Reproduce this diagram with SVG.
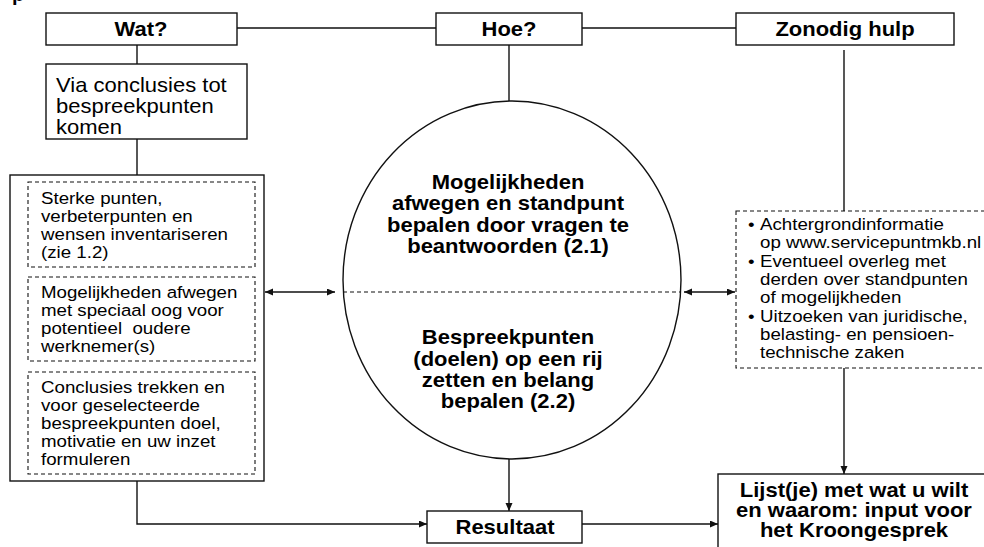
<svg xmlns="http://www.w3.org/2000/svg" width="984" height="547" viewBox="0 0 984 547">
<style>
text{font-family:"Liberation Sans",Arial,sans-serif;fill:#000}
.b{font-weight:bold;font-size:20px}
.r{font-size:20px}
.s{font-size:17px}
.box{fill:#fff;stroke:#111;stroke-width:1.4}
.dash{fill:#fff;stroke:#111;stroke-width:1.1;stroke-dasharray:4 3}
.ln{fill:none;stroke:#111;stroke-width:1.4}
.dl{fill:none;stroke:#111;stroke-width:1.1;stroke-dasharray:4 3}
</style>
<defs>
<marker id="ah" markerUnits="userSpaceOnUse" markerWidth="9" markerHeight="8" refX="8" refY="3.5" orient="auto-start-reverse"><path d="M0,0 L8,3.5 L0,7 z" fill="#111"/></marker>
</defs>
<rect width="984" height="547" fill="#fff"/>
<text class="b" x="12" y="1">p</text>

<g id="connectors">
<path class="ln" d="M237,28 H436 M582,28 H736"/>
<path class="ln" d="M137,45 V64 M137,139 V175"/>
<path class="ln" d="M509,45 V101"/>
<path class="ln" d="M844,50 V211"/>
<path class="ln" d="M509,459 V511" marker-end="url(#ah)"/>
<path class="ln" d="M137,481 V524 H427" marker-end="url(#ah)"/>
<path class="ln" d="M582,524 H718" marker-end="url(#ah)"/>
<path class="ln" d="M844,368 V474" marker-end="url(#ah)"/>
<path class="ln" d="M265,292 H335" marker-start="url(#ah)" marker-end="url(#ah)"/>
<path class="ln" d="M684,292 H735" marker-start="url(#ah)" marker-end="url(#ah)"/>
</g>

<g id="wat">
<rect class="box" x="46" y="13" width="191" height="32"/>
<text class="b" text-anchor="middle" transform="translate(141,0) scale(1.1,1)" y="36">Wat?</text>
</g>
<g id="hoe">
<rect class="box" x="436" y="13" width="146" height="32"/>
<text class="b" text-anchor="middle" transform="translate(509,0) scale(1.1,1)" y="36">Hoe?</text>
</g>
<g id="zonodig">
<rect class="box" x="736" y="13" width="218" height="32"/>
<text class="b" text-anchor="middle" transform="translate(845,0) scale(1.1,1)" y="36">Zonodig hulp</text>
</g>
<g id="via">
<rect class="box" x="46" y="64" width="201" height="75"/>
<text class="r" transform="translate(56,0) scale(1.1,1)"><tspan x="0" y="92">Via conclusies tot</tspan><tspan x="0" y="113">bespreekpunten</tspan><tspan x="0" y="134">komen</tspan></text>
</g>
<g id="stappen">
<rect class="box" x="10" y="175" width="254" height="306"/>
<g id="sterke">
<rect class="dash" x="28" y="182" width="227" height="85"/>
<text class="s" transform="translate(41,0) scale(1.1,1)"><tspan x="0" y="204">Sterke punten,</tspan><tspan x="0" y="222">verbeterpunten en</tspan><tspan x="0" y="240">wensen inventariseren</tspan><tspan x="0" y="258">(zie 1.2)</tspan></text>
</g>
<g id="afwegen">
<rect class="dash" x="28" y="277" width="227" height="84"/>
<text class="s" transform="translate(41,0) scale(1.1,1)"><tspan x="0" y="298">Mogelijkheden afwegen</tspan><tspan x="0" y="316">met speciaal oog voor</tspan><tspan x="0" y="334">potentieel&#160; oudere</tspan><tspan x="0" y="352">werknemer(s)</tspan></text>
</g>
<g id="conclusies">
<rect class="dash" x="28" y="372" width="227" height="102"/>
<text class="s" transform="translate(41,0) scale(1.1,1)"><tspan x="0" y="393">Conclusies trekken en</tspan><tspan x="0" y="411">voor geselecteerde</tspan><tspan x="0" y="429">bespreekpunten doel,</tspan><tspan x="0" y="447">motivatie en uw inzet</tspan><tspan x="0" y="465">formuleren</tspan></text>
</g>
</g>
<g id="cirkel">
<ellipse cx="512" cy="280" rx="169" ry="179" fill="#fff" stroke="#111" stroke-width="1.4"/>
<path class="dl" d="M343,292 H681"/>
<text class="b" text-anchor="middle" transform="translate(508,0) scale(1.1,1)"><tspan x="0" y="189">Mogelijkheden</tspan><tspan x="0" y="210">afwegen en standpunt</tspan><tspan x="0" y="232">bepalen door vragen te</tspan><tspan x="0" y="253">beantwoorden (2.1)</tspan><tspan x="0" y="344">Bespreekpunten</tspan><tspan x="0" y="366">(doelen) op een rij</tspan><tspan x="0" y="387">zetten en belang</tspan><tspan x="0" y="408">bepalen (2.2)</tspan></text>
</g>
<g id="hulp">
<rect class="dash" x="736" y="211" width="300" height="157"/>
<text class="s" transform="translate(748,0) scale(1.1,1)"><tspan x="0" y="230">•</tspan><tspan x="0" y="267">•</tspan><tspan x="0" y="322">•</tspan></text>
<text class="s" transform="translate(760,0) scale(1.1,1)"><tspan x="0" y="230">Achtergrondinformatie</tspan><tspan x="0" y="248">op www.servicepuntmkb.nl</tspan><tspan x="0" y="267">Eventueel overleg met</tspan><tspan x="0" y="285">derden over standpunten</tspan><tspan x="0" y="303">of mogelijkheden</tspan><tspan x="0" y="322">Uitzoeken van juridische,</tspan><tspan x="0" y="340">belasting- en pensioen-</tspan><tspan x="0" y="358">technische zaken</tspan></text>
</g>
<g id="resultaat">
<rect class="box" x="427" y="511" width="155" height="32"/>
<text class="b" text-anchor="middle" transform="translate(505,0) scale(1.1,1)" y="534">Resultaat</text>
</g>
<g id="lijst">
<rect class="box" x="718" y="474" width="300" height="100"/>
<text class="b" text-anchor="middle" transform="translate(854,0) scale(1.1,1)"><tspan x="0" y="497">Lijst(je) met wat u wilt</tspan><tspan x="0" y="517">en waarom: input voor</tspan><tspan x="0" y="537">het Kroongesprek</tspan></text>
</g>
</svg>
